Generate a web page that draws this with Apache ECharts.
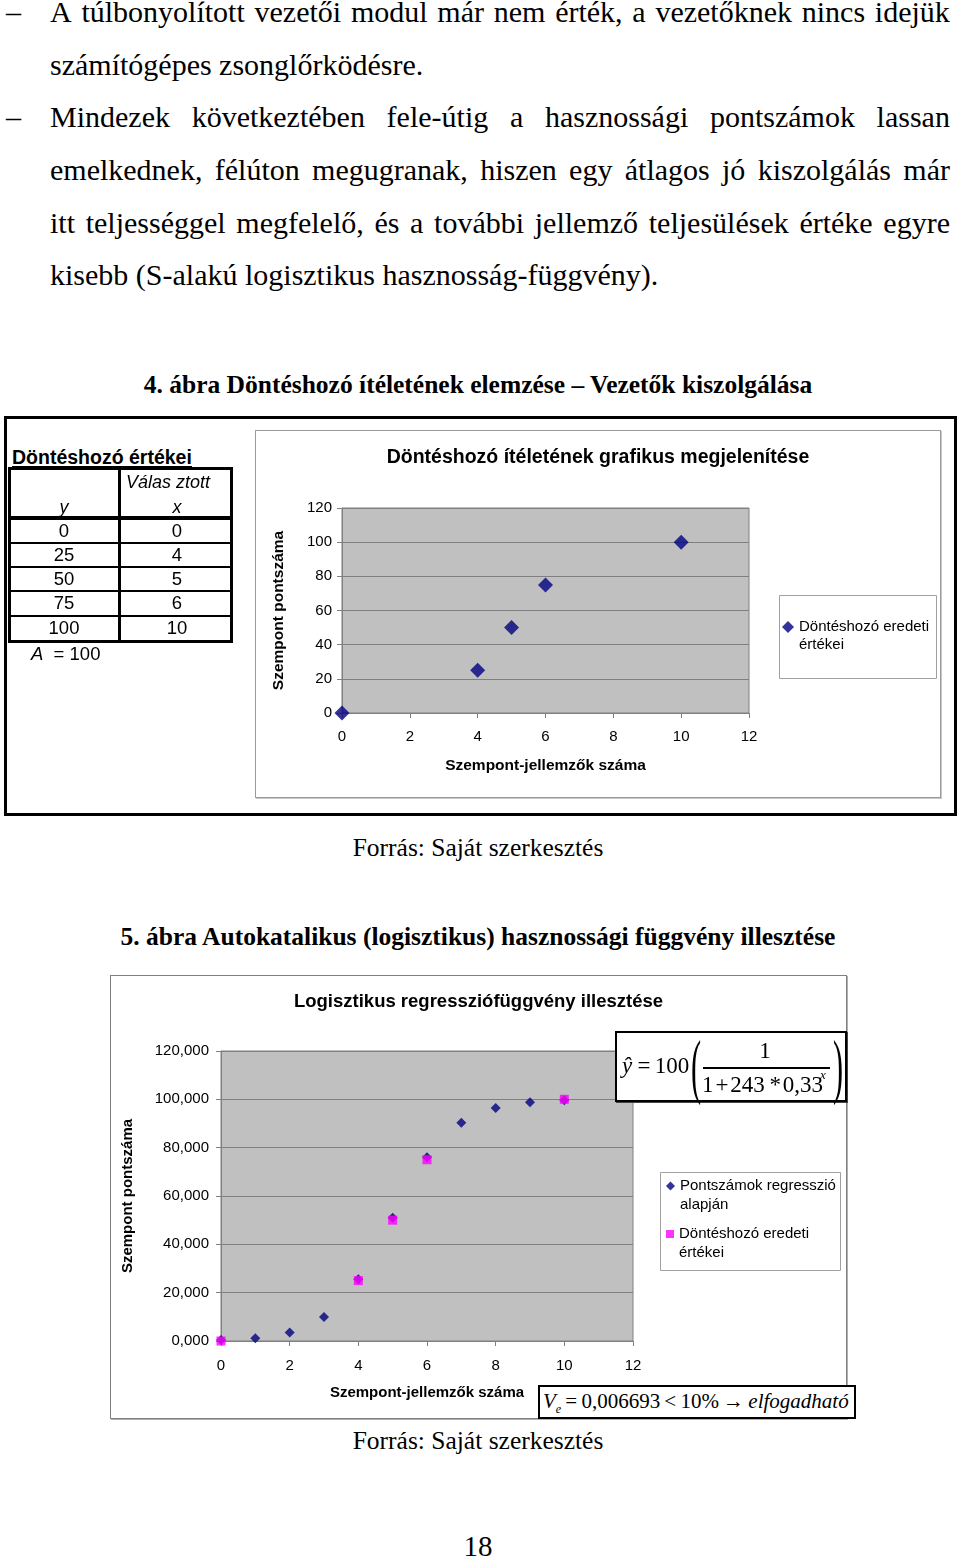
<!DOCTYPE html>
<html><head><meta charset="utf-8">
<script src="https://cdn.jsdelivr.net/npm/echarts@6/dist/echarts.min.js"></script>
<style>
html,body{margin:0;padding:0;background:#fff;}
body{position:relative;width:960px;height:1558px;overflow:hidden;font-family:'Liberation Serif','Times New Roman',serif;color:#000;}
</style>
</head><body>
<div id="fig4box" style="position:absolute;left:4px;top:416px;width:953px;height:400px;border:3px solid #000;box-sizing:border-box;"></div>
<div style="position:absolute;left:255px;top:430px;width:686px;height:368px;border:1px solid #9a9a9a;box-sizing:border-box;box-shadow:1px 1px 0 #c8c8c8;"></div>
<div id="c1" style="position:absolute;left:256px;top:431px;width:684px;height:366px;"></div>
<div style="position:absolute;left:110px;top:975px;width:737px;height:444px;border:1px solid #808080;box-sizing:border-box;box-shadow:1px 1px 0 #b0b0b0;"></div>
<div id="c2" style="position:absolute;left:111px;top:976px;width:735px;height:442px;"></div>
<script>
// ---------- text content ----------
const bodyLines = [
  ['A túlbonyolított vezetői modul már nem érték, a vezetőknek nincs idejük', true, true],
  ['számítógépes zsonglőrködésre.', false, false],
  ['Mindezek következtében fele-útig a hasznossági pontszámok lassan', true, true],
  ['emelkednek, félúton megugranak, hiszen egy átlagos jó kiszolgálás már', false, true],
  ['itt teljességgel megfelelő, és a további jellemző teljesülések értéke egyre', false, true],
  ['kisebb (S-alakú logisztikus hasznosság-függvény).', false, false]
];
const caption4 = '4. ábra Döntéshozó ítéletének elemzése – Vezetők kiszolgálása';
const caption5 = '5. ábra Autokatalikus (logisztikus) hasznossági függvény illesztése';
const sourceText = 'Forrás: Saját szerkesztés';
const pageNumber = '18';

// ---------- data ----------
const tableTitle = 'Döntéshozó értékei';
const origX = [0, 4, 5, 6, 10];          // Választott x
const origY = [0, 25, 50, 75, 100];      // y
const regX = [0, 1, 2, 3, 4, 5, 6, 7, 8, 9, 10];
const regY = [0.4, 1.1, 3.5, 9.9, 25.6, 51.0, 76.0, 90.3, 96.4, 98.8, 99.6];
const chart1Title = 'Döntéshozó ítéletének grafikus megjelenítése';
const chart2Title = 'Logisztikus regressziófüggvény illesztése';
const xName = 'Szempont-jellemzők száma';
const yName = 'Szempont pontszáma';
const seriesOrig = 'Döntéshozó eredeti értékei';
const seriesReg = 'Pontszámok regresszió alapján';

function el(css, html) {
  const d = document.createElement('div');
  d.style.cssText = css;
  if (html !== undefined) d.innerHTML = html;
  document.body.appendChild(d);
  return d;
}
function ctext(cx, cy, html, css) {
  return el(`position:absolute;left:${cx - 150}px;width:300px;top:${cy - 15}px;height:30px;line-height:30px;text-align:center;white-space:nowrap;${css || ''}`, html);
}

// body text
bodyLines.forEach((ln, i) => {
  const top = -14.2 + i * 52.7;
  if (ln[1]) el(`position:absolute;left:6px;top:${top}px;font-size:30px;line-height:52.7px;`, '–');
  const d = el(`position:absolute;left:50px;top:${top}px;width:900px;height:52.7px;font-size:30px;line-height:52.7px;white-space:nowrap;` + (ln[2] ? 'display:flex;justify-content:space-between;' : ''));
  if (ln[2]) {
    ln[0].split(' ').forEach(w => { const s = document.createElement('span'); s.textContent = w; d.appendChild(s); });
  } else d.textContent = ln[0];
});

// captions
function cap(text, baseline, bold, size) {
  size = size || 25.5;
  el(`position:absolute;left:0;width:956px;text-align:center;white-space:nowrap;font-size:${size}px;line-height:1;top:${baseline - 0.8375 * size}px;font-weight:${bold ? 'bold' : 'normal'};`, text);
}
cap(caption4, 393, true);
cap(sourceText, 856.5, false);
cap(caption5, 945.5, true);
cap(sourceText, 1449, false);
cap(pageNumber, 1556.5, false, 29);

// ---------- table (figure 4) ----------
const SANS = "font-family:'Liberation Sans',Arial,sans-serif;";
el(`position:absolute;left:12px;top:446px;height:20px;line-height:22px;font-size:19.5px;font-weight:bold;${SANS}border-bottom:3px solid #000;white-space:nowrap;`, tableTitle);
el('position:absolute;left:8px;top:467px;width:225px;height:176px;border:3px solid #000;box-sizing:border-box;');
el('position:absolute;left:118px;top:467px;width:3px;height:176px;background:#000;');
el('position:absolute;left:8px;top:516px;width:225px;height:4px;background:#000;');
[542, 566, 590, 615].forEach(y => el(`position:absolute;left:8px;top:${y}px;width:225px;height:2px;background:#000;`));
ctext(168, 482, 'Válas ztott', SANS + 'font-size:18px;font-style:italic;');
ctext(64, 507, 'y', SANS + 'font-size:18px;font-style:italic;');
ctext(177, 507, 'x', SANS + 'font-size:18px;font-style:italic;');
const rowCY = [531, 555, 579, 603, 628];
origY.forEach((v, i) => {
  ctext(64, rowCY[i], String(v), SANS + 'font-size:18.5px;');
  ctext(177, rowCY[i], String(origX[i]), SANS + 'font-size:18.5px;');
});
el(`position:absolute;left:31px;top:643px;height:22px;line-height:22px;font-size:18.5px;${SANS}white-space:nowrap;`, '<i>A</i>&nbsp; = 100');

// ---------- formula box ----------
el('position:absolute;left:615px;top:1031px;width:232px;height:71px;border:2px solid #000;box-sizing:border-box;background:#fff;box-shadow:1px 1px 0 #444;');
const F = 'font-size:23px;';
ctext(627, 1066, 'ŷ', F + 'font-style:italic;');
ctext(644, 1066, '=', F);
ctext(672, 1066, '100', F);
el('position:absolute;left:684px;top:1026px;width:24px;height:80px;line-height:80px;font-size:72px;text-align:center;transform:scaleX(0.42);', '(');
el('position:absolute;left:826px;top:1026px;width:24px;height:80px;line-height:80px;font-size:72px;text-align:center;transform:scaleX(0.42);', ')');
ctext(765, 1051, '1', F);
el('position:absolute;left:703px;top:1067px;width:127px;height:1.5px;background:#000;');
el(`position:absolute;left:702px;top:1070px;height:30px;line-height:30px;${F}white-space:nowrap;`, '1&#8202;+&#8202;243&#8201;*&#8202;0,33');
el('position:absolute;left:820px;top:1067px;height:16px;line-height:16px;font-size:13px;font-style:italic;', 'x');

// ---------- Ve box ----------
el('position:absolute;left:538px;top:1385px;width:318px;height:34px;border:2px solid #000;box-sizing:border-box;background:#fff;');
el('position:absolute;left:543px;top:1386px;height:30px;line-height:30px;font-size:21px;white-space:nowrap;',
   '<i>V</i><sub style="font-size:12px;font-style:italic;vertical-align:-5px;">e</sub>&thinsp;=&thinsp;0,006693&thinsp;&lt;&thinsp;10%&thinsp;→&thinsp;<i>elfogadható</i>');

// ---------- charts ----------
const AX = { color: '#000', fontSize: 15, fontFamily: 'Liberation Sans' };
function axisCommon(extra) {
  return Object.assign({
    type: 'value',
    axisLine: { show: true, onZero: false, lineStyle: { color: '#808080', width: 1 } },
    axisTick: { show: true, length: 5, lineStyle: { color: '#808080' } },
    nameLocation: 'middle',
    nameTextStyle: { color: '#000', fontWeight: 'bold', fontSize: 15.5, fontFamily: 'Liberation Sans' }
  }, extra);
}

const c1 = echarts.init(document.getElementById('c1'), null, { renderer: 'canvas' });
c1.setOption({
  animation: false,
  textStyle: { fontFamily: 'Liberation Sans' },
  title: { text: chart1Title, left: 'center', top: 12, textStyle: { fontSize: 19.5, fontWeight: 'bold', color: '#000', fontFamily: 'Liberation Sans' } },
  grid: { left: 86, top: 77, width: 407, height: 205, show: true, backgroundColor: '#c0c0c0', borderColor: '#808080', borderWidth: 1 },
  xAxis: axisCommon({ min: 0, max: 12, interval: 2, name: xName, nameGap: 45, splitLine: { show: false }, axisLabel: Object.assign({ margin: 16 }, AX) }),
  yAxis: axisCommon({ min: 0, max: 120, interval: 20, name: yName, nameGap: 55, splitLine: { show: true, lineStyle: { color: '#808080', width: 1 } }, axisLabel: Object.assign({ margin: 10 }, AX) }),
  graphic: [{ type: 'rect', shape: { x: 523.5, y: 164.5, width: 157, height: 83 }, style: { fill: '#fff', stroke: '#a0a0a0', lineWidth: 1 } }],
  legend: [{
    data: [seriesOrig], left: 526, top: 169, orient: 'vertical', padding: 0, itemGap: 0,
    itemWidth: 12, itemHeight: 12, icon: 'diamond',
    formatter: ' \nDöntéshozó eredeti\nértékei',
    textStyle: { fontSize: 15, lineHeight: 18, color: '#000', fontFamily: 'Liberation Sans' }
  }],
  series: [{
    name: seriesOrig, type: 'scatter', symbol: 'diamond', symbolSize: 15, clip: false,
    itemStyle: { color: '#000080' },
    data: origX.map((x, i) => [x, origY[i]])
  }]
});

const c2 = echarts.init(document.getElementById('c2'), null, { renderer: 'canvas' });
c2.setOption({
  animation: false,
  textStyle: { fontFamily: 'Liberation Sans' },
  title: { text: chart2Title, left: 'center', top: 11, textStyle: { fontSize: 18.5, fontWeight: 'bold', color: '#000', fontFamily: 'Liberation Sans' } },
  grid: { left: 110, top: 75, width: 412, height: 290, show: true, backgroundColor: '#c0c0c0', borderColor: '#808080', borderWidth: 1 },
  xAxis: axisCommon({ min: 0, max: 12, interval: 2, name: xName, nameGap: 44, splitLine: { show: false }, axisLabel: Object.assign({ margin: 17 }, AX), nameTextStyle: { color: '#000', fontWeight: 'bold', fontSize: 15, fontFamily: 'Liberation Sans' } }),
  yAxis: axisCommon({ min: 0, max: 120, interval: 20, name: yName, nameGap: 86, splitLine: { show: true, lineStyle: { color: '#808080', width: 1 } },
    axisLabel: Object.assign({ margin: 12, formatter: v => v.toFixed(3).replace('.', ',') }, AX),
    nameTextStyle: { color: '#000', fontWeight: 'bold', fontSize: 15, fontFamily: 'Liberation Sans' } }),
  graphic: [{ type: 'rect', shape: { x: 549.5, y: 196.5, width: 180, height: 98 }, style: { fill: '#fff', stroke: '#a0a0a0', lineWidth: 1 } }],
  legend: [{
    data: [seriesReg], left: 555, top: 181.5, orient: 'vertical', padding: 0,
    itemWidth: 9, itemHeight: 9, icon: 'diamond',
    formatter: ' \nPontszámok regresszió\nalapján',
    textStyle: { fontSize: 15, lineHeight: 19, color: '#000', fontFamily: 'Liberation Sans' }
  }, {
    data: [seriesOrig], left: 555, top: 229.5, orient: 'vertical', padding: 0,
    itemWidth: 8, itemHeight: 8, icon: 'rect',
    formatter: ' \nDöntéshozó eredeti\nértékei',
    textStyle: { fontSize: 15, lineHeight: 19, color: '#000', fontFamily: 'Liberation Sans' }
  }],
  series: [{
    name: seriesReg, type: 'scatter', symbol: 'diamond', symbolSize: 10, clip: false,
    itemStyle: { color: '#000080' },
    data: regX.map((x, i) => [x, regY[i]])
  }, {
    name: seriesOrig, type: 'scatter', symbol: 'rect', symbolSize: 9, clip: false,
    itemStyle: { color: '#ff00ff' },
    data: origX.map((x, i) => [x, origY[i]])
  }]
});
</script>
</body></html>
